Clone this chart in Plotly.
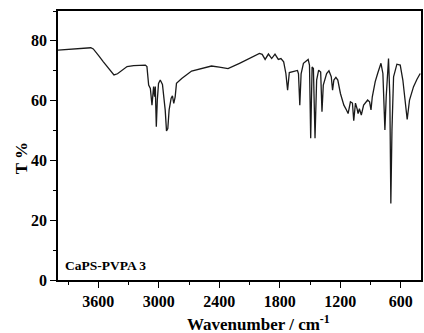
import plotly.graph_objects as go

wavenumber = [4000, 3850, 3708, 3675, 3650, 3625, 3595, 3550, 3500, 3445, 3410, 3380, 3315, 3250, 3134, 3118,
              3101, 3084, 3068, 3052, 3042, 3035, 3025, 3015, 3003, 2986, 2964, 2937, 2924, 2911, 2898,
              2878, 2865, 2852, 2838, 2825, 2773, 2675, 2550, 2478, 2400, 2314, 2200, 2117, 2002, 1975,
              1946, 1913, 1881, 1848, 1815, 1789, 1762, 1740, 1723, 1706, 1625, 1615, 1602, 1589, 1566,
              1519, 1506, 1494, 1480, 1467, 1451, 1435, 1415, 1395, 1382, 1369, 1336, 1313, 1290, 1277,
              1264, 1244, 1225, 1199, 1165, 1139, 1123, 1100, 1080, 1067, 1050, 1034, 1024, 1011, 992,
              969, 929, 910, 896, 883, 854, 830, 797, 778, 758, 745, 722, 709, 699, 688,
              672, 639, 606, 580, 557, 537, 514, 474, 441, 408]
transmittance = [76.9, 77.3, 77.8, 77.7, 77.3, 76.4, 75.0, 73.0, 70.8, 68.6, 69.0, 69.8, 71.4, 71.7, 71.9, 71.4,
                 65.2, 64.1, 58.5, 64.7, 61.3, 64.7, 51.3, 60.2, 65.8, 66.9, 65.4, 56.9, 49.9, 50.7, 56.9,
                 60.8, 61.6, 59.1, 61.3, 65.8, 67.4, 69.9, 71.0, 71.6, 71.2, 70.7, 72.5, 73.8, 75.8, 75.5,
                 73.8, 75.6, 74.1, 75.6, 73.8, 74.1, 73.0, 69.1, 63.5, 69.4, 70.1, 69.0, 58.5, 69.0, 72.5,
                 73.8, 71.9, 47.4, 71.3, 70.8, 47.4, 66.9, 70.2, 69.6, 56.3, 65.2, 69.1, 70.0, 68.0, 63.5,
                 66.9, 67.8, 66.9, 62.4, 58.5, 56.9, 55.7, 59.6, 59.2, 53.3, 59.2, 57.3, 55.7, 57.3, 55.2,
                 58.5, 60.2, 59.6, 56.9, 61.3, 66.4, 69.1, 72.5, 69.1, 50.2, 61.3, 74.1, 61.3, 25.6, 50.2,
                 68.0, 72.2, 71.9, 66.9, 59.1, 53.7, 60.2, 64.7, 67.1, 69.1]

x_ticks = [3600, 3000, 2400, 1800, 1200, 600]
y_ticks = [0, 20, 40, 60, 80]
sample_label = "CaPS-PVPA 3"
x_title = "Wavenumber / cm<sup>-1</sup>"
y_title = "T %"

FONT = "Liberation Serif"

fig = go.Figure()
fig.add_trace(go.Scatter(x=wavenumber, y=transmittance, mode="lines",
                         line=dict(color="#1a1a1a", width=1.3), showlegend=False))

axis_common = dict(showline=True, linecolor="black", linewidth=1.5, mirror=True,
                   ticks="outside", ticklen=6, tickwidth=1.2, tickcolor="black",
                   showgrid=False, zeroline=False,
                   tickfont=dict(family=FONT, size=16, color="black", weight="bold"))

fig.update_xaxes(range=[4000, 400], tickvals=x_ticks,
                 minor=dict(ticks="outside", ticklen=3, dtick=300, tick0=0, tickcolor="black", showgrid=False),
                 **axis_common)
fig.update_yaxes(range=[0, 90], tickvals=y_ticks,
                 minor=dict(ticks="outside", ticklen=3, dtick=10, tick0=0, tickcolor="black", showgrid=False),
                 **axis_common)

pw, ph = 424 - 58 - 1, 333 - 11 - 53
fig.add_annotation(x=(260 - 58) / pw, y=-(323 - 280) / ph, xref="paper", yref="paper", text=x_title,
                   showarrow=False, xanchor="center", yanchor="middle",
                   font=dict(family=FONT, size=17, color="black", weight="bold"))
fig.add_annotation(text=y_title, xref="paper", yref="paper", x=-(58 - 21) / pw, y=(280 - 158) / ph,
                   textangle=-90, showarrow=False, xanchor="center", yanchor="middle",
                   font=dict(family=FONT, size=17, color="black", weight="bold"))
fig.add_annotation(text=sample_label, xref="x", yref="y", x=3950, y=5, xanchor="left", yanchor="middle",
                   showarrow=False, font=dict(family=FONT, size=13.5, color="black", weight="bold"))

fig.update_layout(width=424, height=333, margin=dict(l=58, r=1, t=11, b=53),
                  plot_bgcolor="white", paper_bgcolor="white")

fig.write_html("out.html")
